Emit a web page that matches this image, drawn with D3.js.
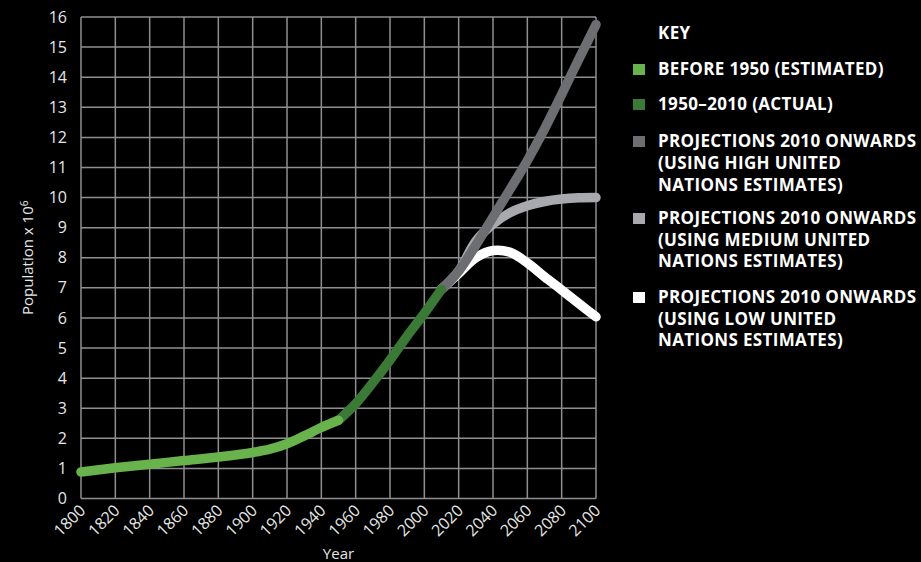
<!DOCTYPE html>
<html><head><meta charset="utf-8">
<script src="https://cdn.jsdelivr.net/npm/d3@7"></script>
<style>
html,body{margin:0;padding:0;background:#000;}
svg{display:block;}
</style></head>
<body>
<script>
// ---- data ----
const yearTicks = [1800,1820,1840,1860,1880,1900,1920,1940,1960,1980,2000,2020,2040,2060,2080,2100];
const valueTicks = [0,1,2,3,4,5,6,7,8,9,10,11,12,13,14,15,16];

const estYears = [1800,1820,1840,1860,1880,1900,1910,1920,1930,1940,1950];
const estValues = [0.88,1.02,1.14,1.26,1.38,1.53,1.64,1.82,2.08,2.36,2.6];

const actYears = [1950,1960,1970,1980,1990,2000,2010];
const actValues = [2.6,3.15,3.85,4.6,5.4,6.15,6.95];

const projYears = [2010,2020,2030,2040,2050,2060,2070,2080,2090,2100];
const highValues = [6.95,7.56,8.42,9.35,10.28,11.23,12.28,13.43,14.6,15.75];
const mediumValues = [6.95,7.56,8.55,9.12,9.5,9.73,9.87,9.95,9.99,10.0];
const lowValues = [6.95,7.48,8.0,8.24,8.18,7.83,7.37,6.93,6.48,6.04];

const legendLabels = [
  ["BEFORE 1950 (ESTIMATED)"],
  ["1950\u20132010 (ACTUAL)"],
  ["PROJECTIONS 2010 ONWARDS","(USING HIGH UNITED","NATIONS ESTIMATES)"],
  ["PROJECTIONS 2010 ONWARDS","(USING MEDIUM UNITED","NATIONS ESTIMATES)"],
  ["PROJECTIONS 2010 ONWARDS","(USING LOW UNITED","NATIONS ESTIMATES)"]
];
const seriesColors = ["#69b34c","#3b7a36","#6d6e71","#a7a9ac","#ffffff"];

// ---- drawing ----
const W = 921, H = 562;
const svg = d3.select("body").append("svg").attr("width",W).attr("height",H)
  .style("background","#000");

const x = d3.scaleLinear().domain([1800,2100]).range([81,596]);
const y = d3.scaleLinear().domain([0,16]).range([498.5,17]);

const gridColor = "#8f8f8f";
const grid = svg.append("g");
grid.selectAll("line.v").data(yearTicks).join("line")
  .attr("x1",d=>x(d)).attr("x2",d=>x(d)).attr("y1",y(0)).attr("y2",y(16))
  .attr("stroke",gridColor).attr("stroke-width",1.5);
grid.selectAll("line.h").data(valueTicks).join("line")
  .attr("y1",d=>y(d)).attr("y2",d=>y(d)).attr("x1",x(1800)).attr("x2",x(2100))
  .attr("stroke",gridColor).attr("stroke-width",1.5);

const tickFont = "'Open Sans', sans-serif";
// y axis
const yAxis = svg.append("g").attr("transform",`translate(${x(1800)},0)`)
  .call(d3.axisLeft(y).tickValues(valueTicks).tickSize(0).tickPadding(14).tickFormat(d3.format("d")));
yAxis.select(".domain").remove();
yAxis.selectAll("text").attr("fill","#e6e6e6").style("font-family",tickFont).style("font-size","16px");

// x axis
const xAxis = svg.append("g").attr("transform",`translate(0,${y(0)})`)
  .call(d3.axisBottom(x).tickValues(yearTicks).tickSize(0).tickFormat(d3.format("d")));
xAxis.select(".domain").remove();
xAxis.selectAll("text")
  .attr("fill","#e6e6e6").style("font-family",tickFont).style("font-size","16px")
  .attr("text-anchor","end").attr("dy","0.35em").attr("y",0)
  .attr("transform","translate(1,9) rotate(-45)");

// axis titles
svg.append("text").attr("x",(x(1800)+x(2100))/2).attr("y",559)
  .attr("text-anchor","middle").attr("fill","#e6e6e6")
  .style("font-family",tickFont).style("font-size","15px").text("Year");

const yt = svg.append("text").attr("transform",`translate(33,${(y(0)+y(16))/2}) rotate(-90)`)
  .attr("text-anchor","middle").attr("fill","#e6e6e6")
  .style("font-family",tickFont).style("font-size","15px");
yt.append("tspan").text("Population x 10");
yt.append("tspan").attr("dy","-0.5em").style("font-size","10px").text("6");

// lines
const line = d3.line().x(d=>x(d[0])).y(d=>y(d[1])).curve(d3.curveCatmullRom.alpha(0.5));
const zip = (a,b)=>a.map((v,i)=>[v,b[i]]);
const series = [
  {data: zip(projYears,lowValues), color: seriesColors[4]},
  {data: zip(projYears,mediumValues), color: seriesColors[3]},
  {data: zip(projYears,highValues), color: seriesColors[2]},
  {data: zip(actYears,actValues), color: seriesColors[1]},
  {data: zip(estYears,estValues), color: seriesColors[0]}
];
svg.append("g").selectAll("path").data(series).join("path")
  .attr("d",d=>line(d.data)).attr("fill","none").attr("stroke",d=>d.color)
  .attr("stroke-width",9.5).attr("stroke-linecap","round").attr("stroke-linejoin","round");

// legend
const legFont = "'Open Sans', sans-serif";
const legStyle = s => s.attr("fill","#fff").style("font-family",legFont).style("font-weight","bold")
  .style("font-size","17px").style("letter-spacing","0.35px");
const lg = svg.append("g");
lg.append("text").attr("x",658).attr("y",39).call(legStyle).text("KEY");
const baselines = [[75],[110],[147,169,191],[224,246,267],[303,325,346]];
legendLabels.forEach((lines,i)=>{
  lg.append("rect").attr("x",633).attr("y",baselines[i][0]-11).attr("width",12).attr("height",11)
    .attr("fill",seriesColors[i]);
  lines.forEach((t,j)=>{
    lg.append("text").attr("x",658).attr("y",baselines[i][j]).call(legStyle).text(t);
  });
});
</script>
</body></html>
